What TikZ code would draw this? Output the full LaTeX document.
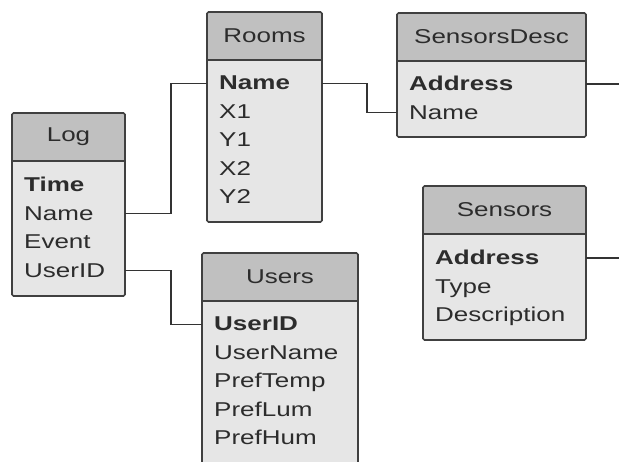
\documentclass[tikz,border=0pt]{standalone}
\usepackage{fontspec}
\setmainfont{Liberation Sans}[FakeStretch=1.3]
\definecolor{hdrgray}{HTML}{C0C0C0}
\definecolor{bodygray}{HTML}{E6E6E6}
\definecolor{edgegray}{HTML}{404040}
\definecolor{inkgray}{HTML}{2C2C2C}
\definecolor{wiregray}{HTML}{333333}
\tikzset{
  tblbody/.style={anchor=north west, fill=bodygray, draw=none, inner sep=0pt, outer sep=0pt},
  tblhead/.style={anchor=north west, fill=hdrgray, draw=none, inner sep=0pt, outer sep=0pt,
    minimum height=48pt, text=inkgray, font=\fontsize{20}{24}\selectfont},
  tblframe/.style={draw=edgegray, line width=1.6pt, rounded corners=1.5pt},
  headrule/.style={draw=edgegray, line width=1.6pt},
  field/.style={anchor=base west, inner sep=0pt, text=inkgray, font=\fontsize{20}{24}\selectfont},
  keyfield/.style={field, font=\fontsize{20}{24}\selectfont\bfseries},
  link/.style={draw=wiregray, line width=1.4pt},
}
% #1 name, #2 left x, #3 top y, #4 width, #5 height, #6 title
\newcommand\erbox[6]{%
  \node[tblbody, minimum width=#4pt, minimum height=#5pt] (#1) at (#2,#3) {};
  \node[tblhead, minimum width=#4pt] (#1-head) at (#2,#3) {#6};
  \draw[headrule] (#1-head.south west) -- (#1-head.south east);
  \draw[tblframe] (#1.north west) rectangle (#1.south east);
}
\begin{document}
\begin{tikzpicture}[x=1pt,y=-1pt]
  \useasboundingbox (0,0) rectangle (619,462);
  \clip (0,0) rectangle (619,462);

  % Log table
  \erbox{log}{12}{113}{113}{183}{Log}
  \node[keyfield] (log-time)   at (24,192)   {Time};
  \node[field]    (log-name)   at (24,220.5) {Name};
  \node[field]    (log-event)  at (24,249)   {Event};
  \node[field]    (log-userid) at (24,277.5) {UserID};

  % Rooms table
  \erbox{rooms}{207}{12}{115}{210}{Rooms}
  \node[keyfield] (rooms-name) at (219,90)    {Name};
  \node[field]    (rooms-x1)   at (219,118.4) {X1};
  \node[field]    (rooms-y1)   at (219,146.8) {Y1};
  \node[field]    (rooms-x2)   at (219,175.2) {X2};
  \node[field]    (rooms-y2)   at (219,203.6) {Y2};

  % SensorsDesc table
  \erbox{sdesc}{397}{13}{189}{124}{SensorsDesc}
  \node[keyfield] (sdesc-address) at (409,91)    {Address};
  \node[field]    (sdesc-name)    at (409,119.4) {Name};

  % Users table
  \erbox{users}{202}{253}{156}{260}{Users}
  \node[keyfield] (users-userid)   at (214,331)   {UserID};
  \node[field]    (users-username) at (214,359.5) {UserName};
  \node[field]    (users-preftemp) at (214,388)   {PrefTemp};
  \node[field]    (users-preflum)  at (214,416.5) {PrefLum};
  \node[field]    (users-prefhum)  at (214,445)   {PrefHum};

  % Sensors table
  \erbox{sensors}{423}{186}{163}{154}{Sensors}
  \node[keyfield] (sensors-address) at (435,265)   {Address};
  \node[field]    (sensors-type)    at (435,293.4) {Type};
  \node[field]    (sensors-desc)    at (435,321.8) {Description};

  % relations
  \coordinate (rightedge) at (619,0);
  \draw[link] (log.east |- log-name) -- ++(46,0) |- (rooms.west |- rooms-name);
  \draw[link] (log.east |- log-userid) -- ++(46,0) |- (users.west |- users-userid);
  \draw[link] (rooms.east |- rooms-name) -- ++(45,0) |- (sdesc.west |- sdesc-name);
  \draw[link] (sdesc.east |- sdesc-address) -- (rightedge |- sdesc-address);
  \draw[link] (sensors.east |- sensors-address) -- (rightedge |- sensors-address);
\end{tikzpicture}
\end{document}
